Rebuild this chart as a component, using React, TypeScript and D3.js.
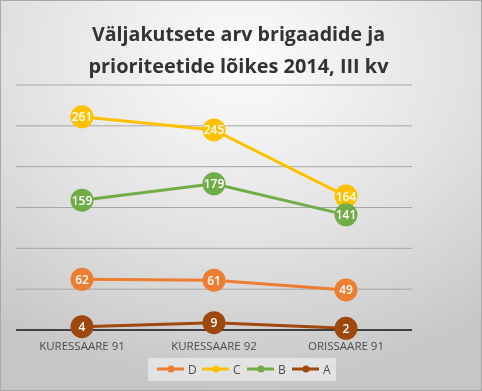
import React from 'react';
import * as d3 from 'd3';

const categories = ['KURESSAARE 91', 'KURESSAARE 92', 'ORISSAARE 91'];
const seriesNames = ['D', 'C', 'B', 'A'];
const valuesD = [62, 61, 49];
const valuesC = [261, 245, 164];
const valuesB = [159, 179, 141];
const valuesA = [4, 9, 2];
const yTicks = [0, 50, 100, 150, 200, 250, 300];
const titleLines = ['Väljakutsete arv brigaadide ja', 'prioriteetide lõikes 2014, III kv'];

const colors: Record<string, string> = {
  D: '#ED7D31',
  C: '#FFC000',
  B: '#70AD47',
  A: '#9E480E',
};

const seriesValues: Record<string, number[]> = { D: valuesD, C: valuesC, B: valuesB, A: valuesA };

const width = 482;
const height = 391;
const margin = { top: 85, right: 70, bottom: 61, left: 16 };
const font = "'Open Sans', 'Noto Sans', sans-serif";

const App: React.FC = () => {
  const x = d3.scaleBand<string>()
    .domain(categories)
    .range([margin.left, width - margin.right]);
  const y = d3.scaleLinear()
    .domain([0, 300])
    .range([height - margin.bottom, margin.top]);

  const line = d3.line<number>()
    .x((_, i) => (x(categories[i]) ?? 0) + x.bandwidth() / 2)
    .y(d => y(d));

  const legendItems = seriesNames.map((s, i) => ({ s, x: 157 + i * 45 }));

  return (
    <div style={{ position: 'fixed', left: 0, top: 0 }}>
      <svg width={width} height={height} style={{ display: 'block' }}>
        <defs>
          <radialGradient id="bg" cx="50%" cy="15%" r="85%">
            <stop offset="0%" stopColor="#fcfcfc" />
            <stop offset="55%" stopColor="#e2e2e2" />
            <stop offset="100%" stopColor="#c6c6c6" />
          </radialGradient>
        </defs>
        <rect x={0.5} y={0.5} width={width - 1} height={height - 1} fill="url(#bg)" stroke="#a8a8a8" />

        {titleLines.map((t, i) => (
          <text key={t} x={238.5} y={41 + i * 32} textAnchor="middle"
            fontFamily={font} fontWeight="bold" fontSize={20} fill="#333333"
            textLength={i === 0 ? 293 : 300} lengthAdjust="spacingAndGlyphs">
            {t}
          </text>
        ))}

        {yTicks.slice(1).map(t => (
          <line key={t} x1={margin.left} x2={width - margin.right} y1={y(t)} y2={y(t)}
            stroke="#a6a6a6" strokeWidth={1} />
        ))}

        {categories.map(c => (
          <text key={c} x={(x(c) ?? 0) + x.bandwidth() / 2} y={350} textAnchor="middle"
            fontFamily={font} fontSize={11.5} fill="#4d4d4d">{c}</text>
        ))}

        {seriesNames.map(s => (
          <path key={s} d={line(seriesValues[s]) ?? ''} fill="none" stroke={colors[s]} strokeWidth={3} />
        ))}

        <line x1={margin.left} x2={width - margin.right} y1={y(0)} y2={y(0)} stroke="#404040" strokeWidth={2} />

        {seriesNames.map(s => (
          <g key={s}>
            {seriesValues[s].map((v, i) => {
              const cx = (x(categories[i]) ?? 0) + x.bandwidth() / 2;
              const cy = y(v);
              return (
                <g key={i}>
                  <circle cx={cx} cy={cy} r={11.5} fill={colors[s]} />
                  <text x={cx} y={cy + 4.5} textAnchor="middle" fontFamily={font} fontSize={12}
                    fontWeight={600} fill="#ffffff">{v}</text>
                </g>
              );
            })}
          </g>
        ))}

        <rect x={148} y={358} width={188} height={23} fill="#e8e8e8" opacity={0.8} />
        {legendItems.map(({ s, x: lx }) => (
          <g key={s}>
            <line x1={lx} x2={lx + 27} y1={369} y2={369} stroke={colors[s]} strokeWidth={3} />
            <circle cx={lx + 14} cy={369} r={3.5} fill={colors[s]} />
            <text x={lx + 31} y={373.5} fontFamily={font} fontSize={12} fill="#4d4d4d">{s}</text>
          </g>
        ))}
      </svg>
    </div>
  );
};

export default App;
